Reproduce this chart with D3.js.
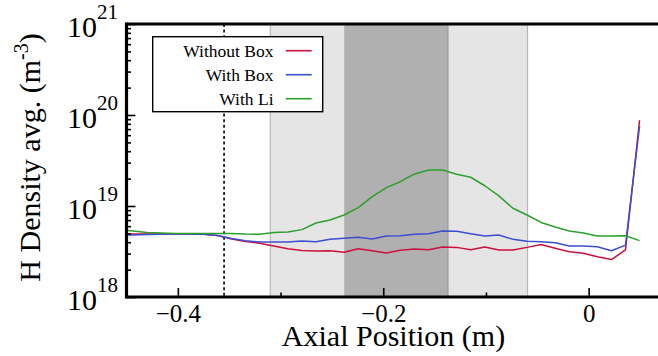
<!DOCTYPE html>
<html><head><meta charset="utf-8">
<script src="https://cdn.jsdelivr.net/npm/d3@7"></script>
<style>
body{margin:0;background:#fff}
svg{display:block}
text{font-family:"Liberation Serif","Times New Roman",serif;fill:#000}
</style></head><body>
<svg id="c" width="658" height="356"></svg>
<script>
// ---- data (H density in units of 1e18 m^-3) ----
const axialPos = [-0.4573,-0.4436,-0.4299,-0.4162,-0.4025,-0.3888,-0.3751,-0.3614,-0.3477,-0.3340,
  -0.3203,-0.3066,-0.2929,-0.2792,-0.2655,-0.2518,-0.2381,-0.2244,-0.2107,-0.1970,
  -0.1833,-0.1696,-0.1559,-0.1422,-0.1285,-0.1148,-0.1011,-0.0874,-0.0737,-0.0600,
  -0.0463,-0.0326,-0.0189,-0.0052,0.0085,0.0222,0.0359,0.0496];
const withoutBox = [4.92,4.92,4.92,4.92,4.92,4.92,4.9,4.74,4.34,4.07,
  3.9,3.63,3.39,3.24,3.2,3.22,3.1,3.39,3.22,3.04,
  3.26,3.37,3.3,3.54,3.51,3.3,3.54,3.29,3.29,3.51,
  3.78,3.44,3.14,3.02,2.77,2.58,3.29,88];
const withBox = [4.8,4.8,4.86,4.9,4.92,4.92,4.9,4.74,4.4,4.16,
  4.02,4.02,4.02,4.12,4.05,4.3,4.42,4.53,4.34,4.68,
  4.72,4.89,4.96,5.31,5.27,4.96,4.68,4.8,4.3,4.09,
  4.05,3.95,3.63,3.63,3.57,3.22,3.72,75.7];
const withLi = [5.5,5.3,5.1,5.05,5.0,5.0,5.0,5.0,4.98,4.92,
  4.9,5.12,5.18,5.5,6.5,7.02,7.96,9.6,12.7,15.9,
  18.5,22.5,24.9,24.9,22.3,20.7,16.7,12.9,9.45,7.96,
  6.6,5.88,5.31,5.05,4.68,4.68,4.72,4.16];
const seriesNames = ["Without Box","With Box","With Li"];
const seriesColors = ["#cc1040","#3b4fd0","#2ca02c"];
const xMajorTicks = [-0.4,-0.2,0];
const xMinorTicks = [-0.3,-0.1];
const yMajorExp = [18,19,20,21];
const lightRegion = [-0.31,-0.0595];
const darkRegion = [-0.238,-0.137];
const dottedLineX = -0.355;
const xLabel = "Axial Position (m)";

// ---- layout ----
const svg = d3.select("#c");
const L = 126.5, T = 24, B = 297, Rimg = 658;
const x = d3.scaleLinear().domain([-0.45,0.07]).range([L, L + 0.52*1027]);
const y = d3.scaleLog().domain([1e18,1e21]).range([B, T]);

svg.append("rect").attr("width",658).attr("height",356).attr("fill","#fff");

svg.append("defs").append("clipPath").attr("id","clip")
  .append("rect").attr("x",L).attr("y",T).attr("width",Rimg-L).attr("height",B-T);

// shaded regions
svg.append("rect").attr("x",x(lightRegion[0])).attr("y",T)
  .attr("width",x(lightRegion[1])-x(lightRegion[0])).attr("height",B-T)
  .attr("fill","#e5e5e5");
[lightRegion[0],lightRegion[1]].forEach(v=>{
  svg.append("line").attr("x1",x(v)).attr("x2",x(v)).attr("y1",T).attr("y2",B)
    .attr("stroke","#b8b8b8").attr("stroke-width",1.2);
});
svg.append("rect").attr("x",x(darkRegion[0])).attr("y",T)
  .attr("width",x(darkRegion[1])-x(darkRegion[0])).attr("height",B-T)
  .attr("fill","#b0b0b0");
svg.append("line").attr("x1",x(darkRegion[1])).attr("x2",x(darkRegion[1])).attr("y1",T).attr("y2",B)
  .attr("stroke","#999").attr("stroke-width",1.2);

// dotted vertical line
svg.append("line").attr("x1",x(dottedLineX)).attr("x2",x(dottedLineX)).attr("y1",T).attr("y2",B)
  .attr("stroke","#000").attr("stroke-width",1.6).attr("stroke-dasharray","3,2.6");

// series
const line = d3.line().x((d,i)=>x(axialPos[i])).y(d=>y(d*1e18));
const g = svg.append("g").attr("clip-path","url(#clip)");
[withoutBox,withBox,withLi].forEach((s,i)=>{
  g.append("path").datum(s).attr("d",line).attr("fill","none")
    .attr("stroke",seriesColors[i]).attr("stroke-width",1.5).attr("stroke-linejoin","round");
});

// axes: ticks
const xAxisMajor = d3.axisBottom(x).tickValues(xMajorTicks).tickSize(-9)
  .tickFormat(d=> d===0 ? "0" : d3.format(".1f")(d).replace("-","\u2212"));
const gx = svg.append("g").attr("transform",`translate(0,${B})`).call(xAxisMajor);
gx.select(".domain").remove();
gx.selectAll(".tick line").attr("stroke","#000").attr("stroke-width",1.6);
gx.selectAll(".tick text").attr("y",25).attr("dy",null).attr("font-size",25)
  .attr("font-family","Liberation Serif, serif").attr("fill","#000");
const gxm = svg.append("g").attr("transform",`translate(0,${B})`)
  .call(d3.axisBottom(x).tickValues(xMinorTicks).tickSize(-4.5).tickFormat(""));
gxm.select(".domain").remove();
gxm.selectAll(".tick line").attr("stroke","#000").attr("stroke-width",1.6);

const yMinor = [];
for (let e=18;e<21;e++) for (let m=2;m<=9;m++) yMinor.push(m*Math.pow(10,e));
const gy = svg.append("g").attr("transform",`translate(${L},0)`)
  .call(d3.axisLeft(y).tickValues(yMajorExp.map(e=>Math.pow(10,e))).tickSize(-9).tickFormat(""));
gy.select(".domain").remove();
gy.selectAll(".tick line").attr("stroke","#000").attr("stroke-width",1.6);
const gym = svg.append("g").attr("transform",`translate(${L},0)`)
  .call(d3.axisLeft(y).tickValues(yMinor).tickSize(-4.5).tickFormat(""));
gym.select(".domain").remove();
gym.selectAll(".tick line").attr("stroke","#000").attr("stroke-width",1.6);

// y tick labels 10^n
yMajorExp.forEach(e=>{
  const t = svg.append("text").attr("x",118).attr("y",y(Math.pow(10,e))+13)
    .attr("text-anchor","end").attr("font-size",30);
  t.append("tspan").text("10");
  t.append("tspan").attr("dy",-18.3).attr("font-size",21).text(String(e));
});

// axis frame lines
svg.append("line").attr("x1",L).attr("x2",Rimg).attr("y1",B).attr("y2",B)
  .attr("stroke","#000").attr("stroke-width",3.2);
svg.append("line").attr("x1",L).attr("x2",Rimg).attr("y1",T).attr("y2",T)
  .attr("stroke","#000").attr("stroke-width",3.2);
svg.append("line").attr("x1",L).attr("x2",L).attr("y1",T-1.6).attr("y2",B+1.6)
  .attr("stroke","#000").attr("stroke-width",3.2);

// axis titles
svg.append("text").attr("x",393.5).attr("y",346).attr("text-anchor","middle")
  .attr("font-size",30).text(xLabel);
const yt = svg.append("text").attr("transform","translate(40,157.5) rotate(-90)")
  .attr("text-anchor","middle").attr("font-size",30);
yt.append("tspan").text("H Density avg. (m");
yt.append("tspan").attr("dy",-12).attr("font-size",20).text("-3");
yt.append("tspan").attr("dy",12).text(")");

// legend
const lg = svg.append("g");
lg.append("rect").attr("x",152.7).attr("y",36.7).attr("width",170).attr("height",75)
  .attr("fill","#fff").attr("stroke","#000").attr("stroke-width",1.4);
seriesNames.forEach((n,i)=>{
  const cy = 50.7 + i*24;
  lg.append("text").attr("x",273.5).attr("y",cy+6).attr("text-anchor","end")
    .attr("font-size",17.5).text(n);
  lg.append("line").attr("x1",285.7).attr("x2",311.7).attr("y1",cy).attr("y2",cy)
    .attr("stroke",seriesColors[i]).attr("stroke-width",1.6);
});
</script></body></html>
